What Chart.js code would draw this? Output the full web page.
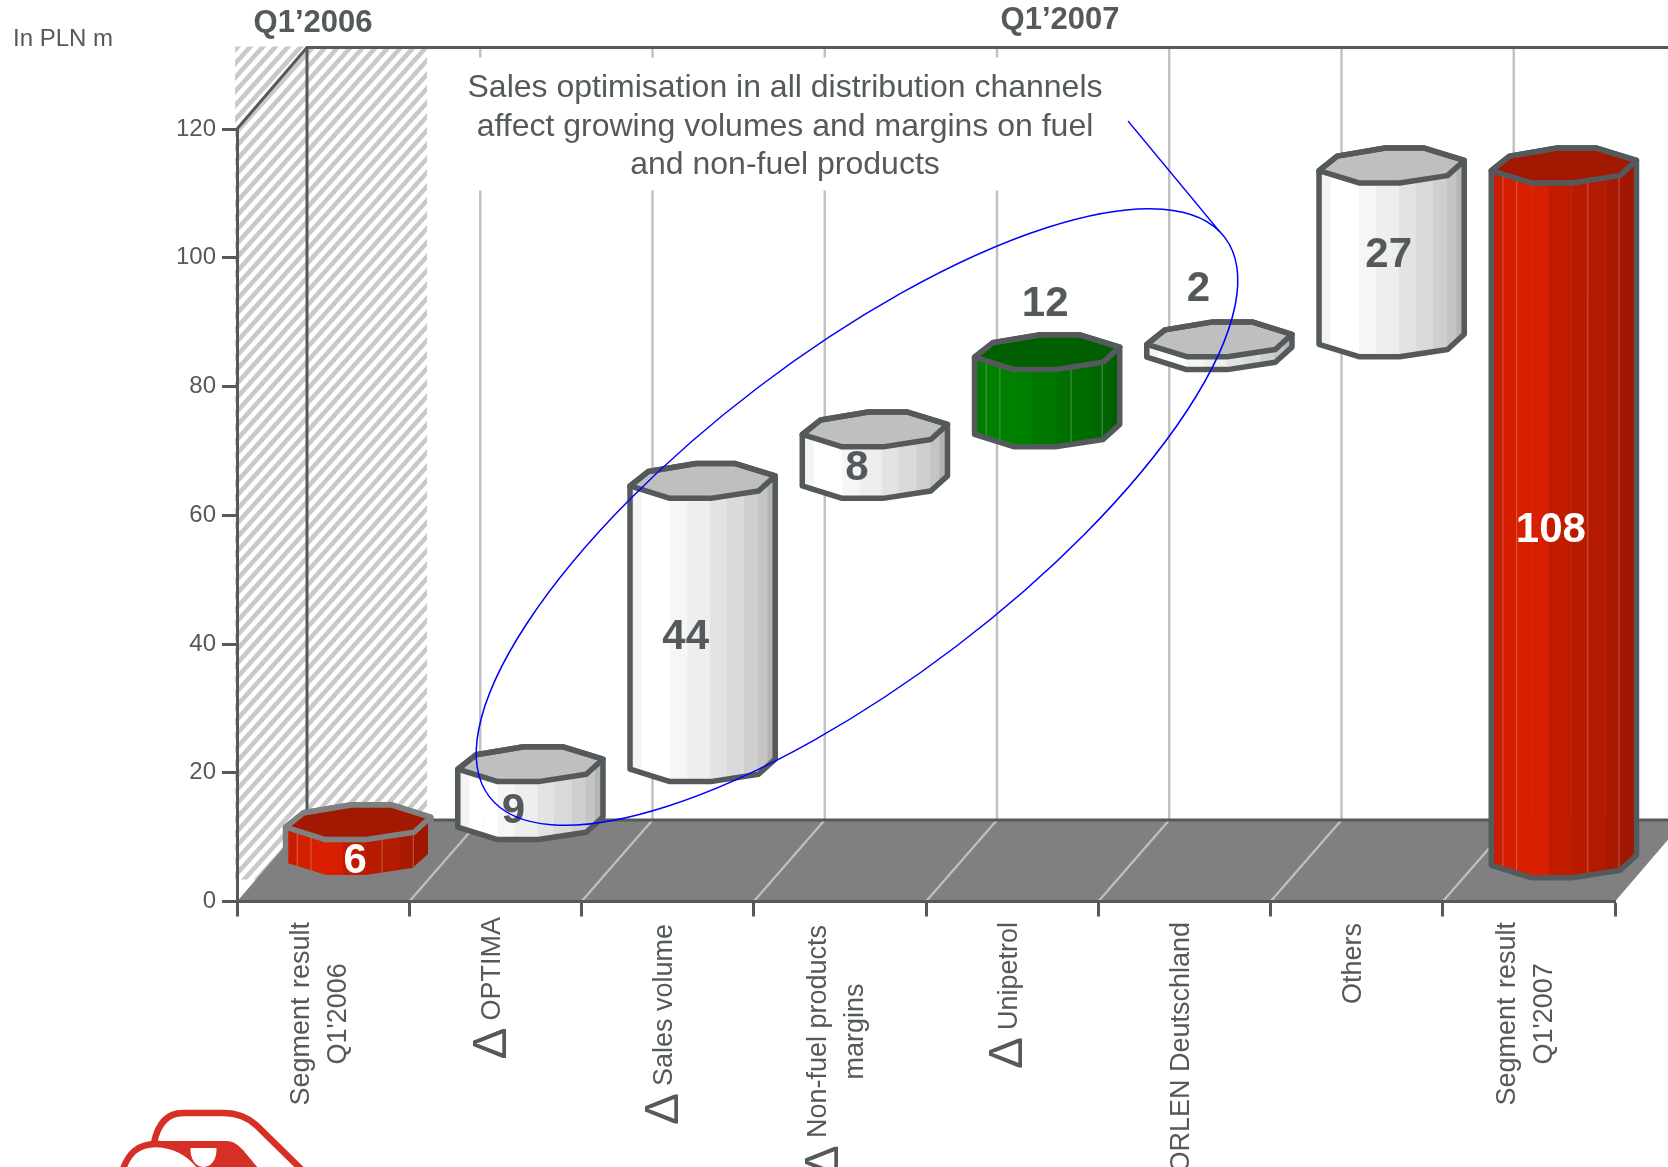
<!DOCTYPE html>
<html>
<head>
<meta charset="utf-8">
<style>html,body{margin:0;padding:0;background:#fff}canvas{display:block}</style>
<script src="https://cdn.jsdelivr.net/npm/chart.js@4/dist/chart.umd.min.js"></script>
</head>
<body>
<canvas id="c" width="1668" height="1167"></canvas>
<script>
// ---- data ----
const categories = [
  ['Segment result', "Q1'2006"], ['OPTIMA'], ['Sales volume'], ['Non-fuel products', 'margins'],
  ['Unipetrol'], ['ORLEN Deutschland'], ['Others'], ['Segment result', "Q1'2007"]
];
const hasDelta = [false, true, true, true, true, true, false, false];
const barStart = [0, 6, 15, 59, 67, 79, 81, 0];
const barEnd = [6, 15, 59, 67, 79, 81, 108, 108];
const barLabels = ['6', '9', '44', '8', '12', '2', '27', '108'];
const barKinds = ['red', 'white', 'white', 'white', 'green', 'white', 'white', 'red'];
const yTicks = [0, 20, 40, 60, 80, 100, 120];
const periodTitles = ['Q1\u20192006', 'Q1\u20192007'];
const unitLabel = 'In PLN m';
const noteLines = ['Sales optimisation in all distribution channels', 'affect growing volumes and margins on fuel', 'and non-fuel products'];

// ---- style ----
const FONT = '"Liberation Sans", Arial, sans-serif';
const INK = '#54595c';
const DEPTH_X = 70, DEPTH_Y = 81.5;
const FACETS = [-1, -.84, -.65, -.45, -.21, .10, .33, .57, .76, .89, 1];
const PALETTE = {
  white: {cap: '#bfbfbf', edge: INK, side: ['#f4f4f4','#ffffff','#ffffff','#f6f6f6','#eeeeee','#e3e3e3','#dadada','#cfcfcf','#c4c4c4','#b4b4b4']},
  red: {cap: '#a31800', edge: INK, seam: 'rgba(255,255,255,.28)', side: ['#c91c00','#d41e00','#d81f00','#d81f00','#c21c00','#b81a00','#b31a00','#a91800','#a01600','#a01600']},
  green: {cap: '#005f00', edge: INK, seam: 'rgba(255,255,255,.25)', side: ['#007a00','#007f00','#008000','#008000','#007800','#007000','#006c00','#006800','#006200','#005c00']}
};
const CAP = [[-1,.29],[-.75,-.54],[-.09,-1],[.45,-1],[1,-.29],[.77,.58],[.11,1],[-.45,1]];
const LABEL_NUDGE = [[-3,20],[-17,18],[-17,15],[-18,13],[-2,-86],[-21,-56],[-3,3],[-13,18]];
const TICK_TOP_NUDGE = [0,-5,2,3,0,0,1,0];

function line(ctx, x1, y1, x2, y2, color, w) {
  ctx.strokeStyle = color; ctx.lineWidth = w;
  ctx.beginPath(); ctx.moveTo(x1, y1); ctx.lineTo(x2, y2); ctx.stroke();
}
function text(ctx, s, x, y, font, color, align) {
  ctx.font = font; ctx.fillStyle = color; ctx.textAlign = align || 'center'; ctx.textBaseline = 'middle';
  ctx.fillText(s, x, y);
}

const scene = {
  id: 'scene',
  beforeDraw(chart) {
    const {ctx, scales: {x, y}} = chart;
    const x0 = x.left, y0 = y.getPixelForValue(0), yTop = y.getPixelForValue(120);
    const backY = y0 - DEPTH_Y, ceil = yTop - DEPTH_Y;
    ctx.save();
    ctx.fillStyle = '#fff'; ctx.fillRect(0, 0, chart.width, chart.height);
    // hatched Q1'2006 panel
    ctx.save();
    ctx.beginPath(); ctx.rect(x0 - 2, ceil - 1, 192, y0 - 21 - ceil);
    ctx.clip();
    ctx.strokeStyle = '#c9c9c9'; ctx.lineWidth = 4.6;
    for (let k = -80; k < 80; k++) {
      const bx = x0 + k * 12.6;
      ctx.beginPath(); ctx.moveTo(bx, y0); ctx.lineTo(bx + 900, y0 - 1000); ctx.stroke();
    }
    ctx.restore();
    // back wall gridlines
    for (let i = 1; i < 8; i++) {
      const gx = x.getPixelForValue(i - .5) + DEPTH_X + 1;
      line(ctx, gx, ceil, gx, backY, '#c0c0c0', 2.4);
    }
    // white note panel
    ctx.fillStyle = '#fff'; ctx.fillRect(462, ceil + 10, 668, 133);
    // floor
    ctx.fillStyle = '#808080';
    ctx.beginPath(); ctx.moveTo(x0, y0); ctx.lineTo(x.right, y0);
    ctx.lineTo(x.right + DEPTH_X, backY); ctx.lineTo(x0 + DEPTH_X, backY); ctx.closePath(); ctx.fill();
    for (let i = 1; i < 8; i++) {
      const gx = x.getPixelForValue(i - .5);
      line(ctx, gx, y0, gx + DEPTH_X + 1, backY, '#c0c0c0', 2.2);
    }
    // frame
    line(ctx, x0 + DEPTH_X, backY, x.right + DEPTH_X, backY, INK, 3);
    line(ctx, x0 + DEPTH_X, ceil, x0 + DEPTH_X, backY, INK, 3);
    line(ctx, x0 + DEPTH_X - 1, ceil, chart.width, ceil, INK, 3);
    line(ctx, x0, yTop, x0 + DEPTH_X, ceil, INK, 3);
    ctx.restore();
  },
  beforeDatasetDraw(chart, args) {
    const {ctx} = chart;
    const meta = chart.getDatasetMeta(args.index);
    meta.data.forEach((bar, i) => {
      const p = PALETTE[barKinds[i]];
      const edge = i === 0 ? '#808080' : p.edge;
      const hw = bar.width / 2, hh = hw * .24;
      const cx = bar.x + DEPTH_X / 2, top = bar.y - DEPTH_Y / 2, bot = bar.base - DEPTH_Y / 2;
      const px = (q) => [cx + q[0] * hw, top + q[1] * hh];
      const hull = () => {
        ctx.beginPath();
        for (let k = 0; k <= 4; k++) { const a = px(CAP[k]); k ? ctx.lineTo(a[0], a[1]) : ctx.moveTo(a[0], a[1]); }
        [4, 5, 6, 7, 0].forEach(k => { const a = px(CAP[k]); ctx.lineTo(a[0], a[1] + bot - top); });
        ctx.closePath();
      };
      ctx.save();
      ctx.lineJoin = 'round';
      ctx.save(); hull(); ctx.clip();
      p.side.forEach((c, k) => {
        ctx.fillStyle = c;
        const a = cx + FACETS[k] * hw, b = cx + FACETS[k + 1] * hw;
        ctx.fillRect(a, top - hh * 2, b - a + .5, bot - top + hh * 4);
      });
      if (p.seam) [1, 2, 6, 8].forEach(k => {
        line(ctx, cx + FACETS[k] * hw, top, cx + FACETS[k] * hw, bot + hh, p.seam, 1);
      });
      ctx.restore();
      ctx.beginPath();
      CAP.forEach((q, k) => { const a = px(q); k ? ctx.lineTo(a[0], a[1]) : ctx.moveTo(a[0], a[1]); });
      ctx.closePath();
      ctx.fillStyle = p.cap; ctx.fill();
      ctx.strokeStyle = edge; ctx.lineWidth = 5.5; ctx.stroke();
      hull(); ctx.stroke();
      ctx.restore();
    });
    return false;
  },
  afterDraw(chart) {
    const {ctx, scales: {x, y}} = chart;
    const meta = chart.getDatasetMeta(0);
    ctx.save();
    // value labels
    meta.data.forEach((bar, i) => {
      const cx = bar.x + DEPTH_X / 2 + LABEL_NUDGE[i][0];
      const cy = (bar.y + bar.base) / 2 - DEPTH_Y / 2 + LABEL_NUDGE[i][1];
      text(ctx, barLabels[i], cx, cy, 'bold 42px ' + FONT, barKinds[i] === 'red' ? '#ffffff' : INK);
    });
    // category labels, rotated, centred in a block hung from the axis
    const labelFont = '27px ' + FONT;
    categories.forEach((lines, i) => {
      const tx = x.getPixelForTick(i);
      ctx.font = labelFont;
      ctx.wordSpacing = lines[0].startsWith('Segment') ? '2px' : '0px';
      const w = Math.max(...lines.map(l => ctx.measureText(l).width));
      const topY = 922 + TICK_TOP_NUDGE[i];
      const n = lines.length;
      lines.forEach((l, k) => {
        ctx.save();
        ctx.translate(tx - 3 + (k - (n - 1) / 2) * 37, topY + w / 2);
        ctx.rotate(-Math.PI / 2);
        text(ctx, l, 0, 0, labelFont, INK);
        ctx.restore();
      });
      ctx.wordSpacing = '0px';
      if (hasDelta[i]) {
        const w0 = (ctx.font = labelFont, ctx.measureText(lines[0]).width);
        ctx.save();
        ctx.translate(tx - 3 - (n - 1) * 12, topY + w0 + 23);
        ctx.rotate(-Math.PI / 2);
        text(ctx, '\u0394', 0, 0, '48px ' + FONT, INK);
        ctx.restore();
      }
    });
    // titles and note
    text(ctx, unitLabel, 13, 39, '24px ' + FONT, INK, 'left');
    text(ctx, periodTitles[0], 313, 23, 'bold 31px ' + FONT, INK);
    text(ctx, periodTitles[1], 1060, 20, 'bold 31px ' + FONT, INK);
    noteLines.forEach((l, k) => text(ctx, l, 785, 88.5 + k * 38.4, '32px ' + FONT, INK));
    // ellipse callout
    ctx.strokeStyle = '#0000ff'; ctx.lineWidth = 1.5;
    ctx.beginPath();
    ctx.ellipse(857, 517, 462, 163, -37.25 * Math.PI / 180, 0, Math.PI * 2);
    ctx.stroke();
    line(ctx, 1128, 121, 1220, 232, '#0000ff', 1.3);
    // logo fragment
    ctx.strokeStyle = '#d52f26'; ctx.fillStyle = '#d52f26'; ctx.lineWidth = 6.5; ctx.lineCap = 'round';
    ctx.beginPath(); ctx.moveTo(154, 1143); ctx.bezierCurveTo(158, 1123, 168, 1113, 183, 1113);
    ctx.lineTo(224, 1113); ctx.bezierCurveTo(238, 1113, 247, 1117, 256, 1125); ctx.lineTo(302, 1170); ctx.stroke();
    ctx.beginPath(); ctx.moveTo(122, 1172); ctx.bezierCurveTo(128, 1153, 138, 1144, 156, 1144); ctx.lineTo(160, 1144); ctx.stroke();
    ctx.beginPath(); ctx.moveTo(156, 1141); ctx.lineTo(226, 1141); ctx.bezierCurveTo(234, 1141, 238, 1145, 243, 1150);
    ctx.lineTo(258, 1168); ctx.lineTo(197, 1168); ctx.bezierCurveTo(188, 1156, 174, 1148, 156, 1147); ctx.closePath(); ctx.fill();
    ctx.fillStyle = '#fff';
    ctx.beginPath(); ctx.moveTo(190.5, 1148); ctx.lineTo(216.5, 1148); ctx.bezierCurveTo(217, 1158, 212, 1167, 203.5, 1167);
    ctx.bezierCurveTo(195, 1167, 190, 1158, 190.5, 1148); ctx.fill();
    ctx.restore();
  }
};

new Chart(document.getElementById('c'), {
  type: 'bar',
  data: {
    labels: categories,
    datasets: [{ data: barStart.map((s, i) => [s, barEnd[i]]), backgroundColor: 'rgba(0,0,0,0)', barPercentage: .843, categoryPercentage: 1 }]
  },
  options: {
    responsive: false,
    animation: false,
    layout: { padding: { top: 129, right: 53, left: 0, bottom: 0 } },
    plugins: { legend: { display: false }, tooltip: { enabled: false }, title: { display: false } },
    scales: {
      x: {
        afterFit(s) { s.height = 265.5; },
        ticks: { display: false },
        grid: { offset: true, drawOnChartArea: false, drawTicks: true, tickLength: 15, tickWidth: 3, tickColor: INK },
        border: { color: INK, width: 3 }
      },
      y: {
        min: 0, max: 120,
        afterFit(s) { s.width = 237; },
        afterBuildTicks(s) { s.ticks = yTicks.map(v => ({ value: v })); },
        ticks: { font: { family: 'Liberation Sans', size: 24 }, color: INK, padding: 6 },
        grid: { drawOnChartArea: false, tickLength: 15, tickWidth: 3, tickColor: INK },
        border: { color: INK, width: 3 }
      }
    }
  },
  plugins: [scene]
});
</script>
</body>
</html>
